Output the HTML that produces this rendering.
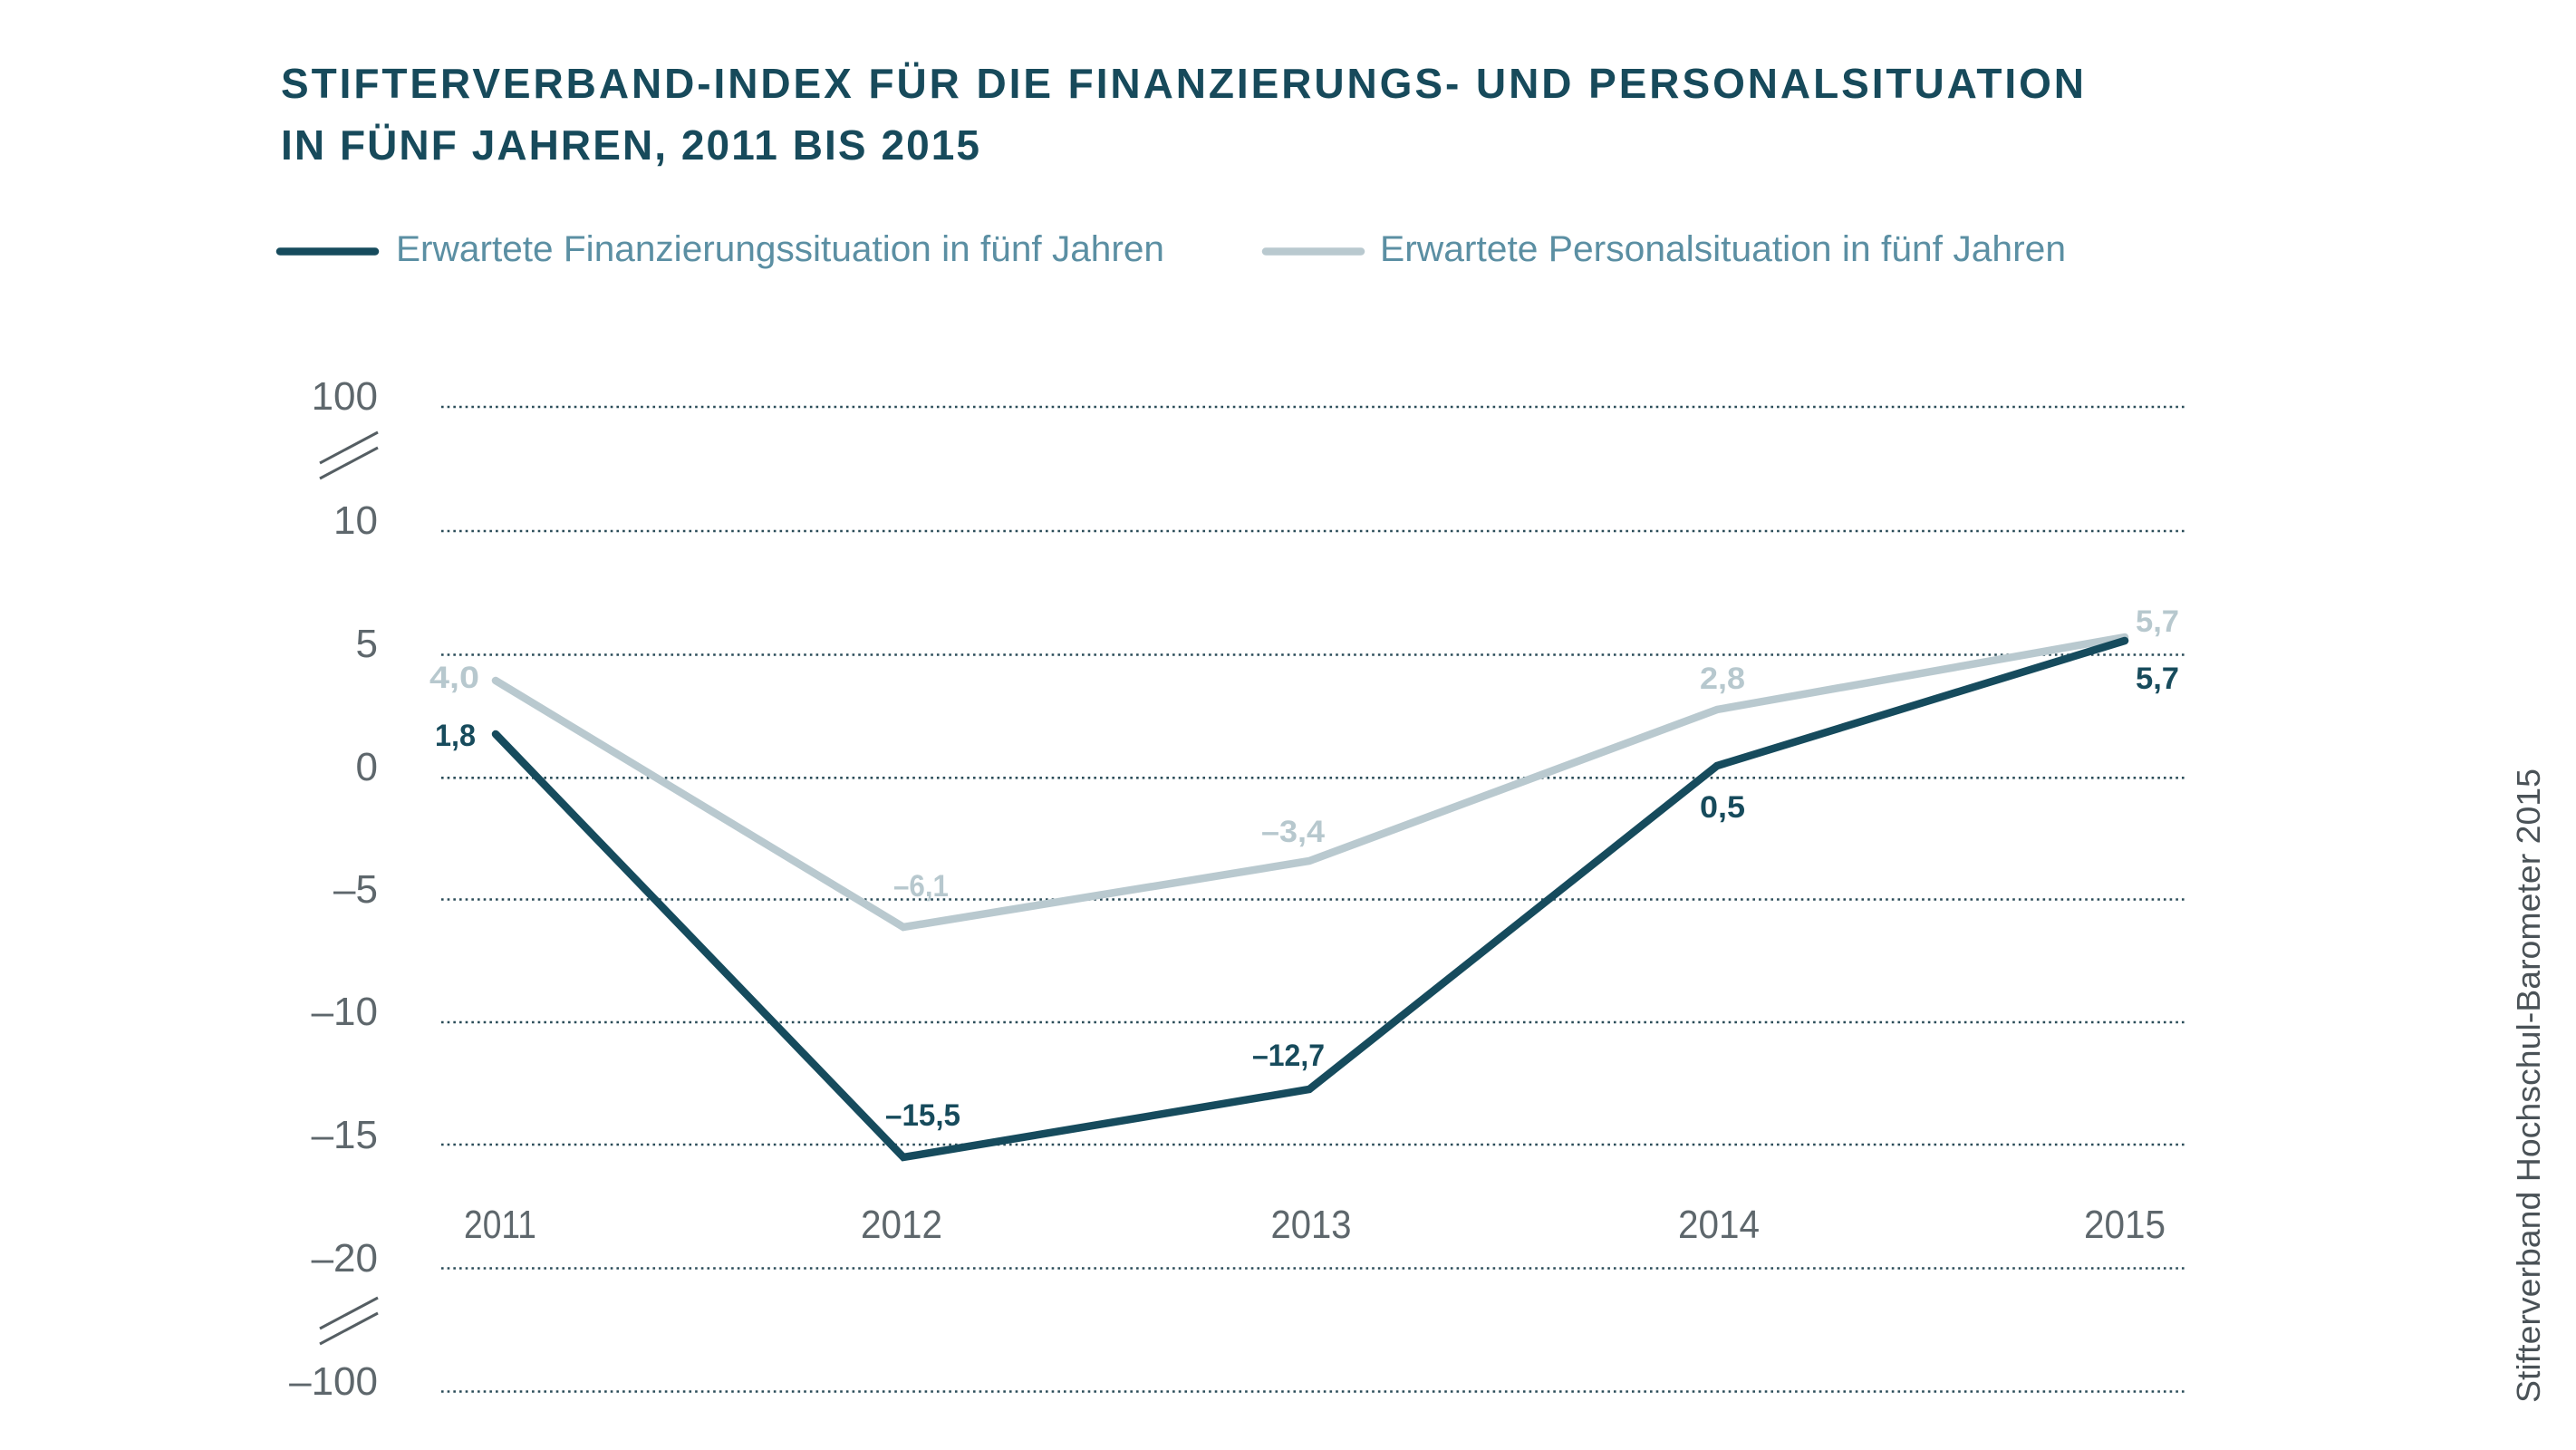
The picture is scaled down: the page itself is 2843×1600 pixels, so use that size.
<!DOCTYPE html>
<html>
<head>
<meta charset="utf-8">
<style>
  html,body{margin:0;padding:0;background:#ffffff;}
  body{width:2843px;height:1600px;overflow:hidden;}
  svg{display:block;}
  text{font-family:"Liberation Sans", sans-serif;}
</style>
</head>
<body>
<svg width="2843" height="1600" viewBox="0 0 2843 1600" xmlns="http://www.w3.org/2000/svg">
  <rect width="2843" height="1600" fill="#ffffff"/>

  <!-- Title -->
  <text x="310" y="108" font-size="46" font-weight="bold" fill="#174a5b" textLength="1990" lengthAdjust="spacing">STIFTERVERBAND-INDEX FÜR DIE FINANZIERUNGS- UND PERSONALSITUATION</text>
  <text x="310" y="176" font-size="46" font-weight="bold" fill="#174a5b" textLength="771" lengthAdjust="spacing">IN FÜNF JAHREN, 2011 BIS 2015</text>

  <!-- Legend -->
  <line x1="309" y1="277.5" x2="414" y2="277.5" stroke="#164b5d" stroke-width="8.5" stroke-linecap="round"/>
  <text x="437" y="288" font-size="40" fill="#5b8fa3" textLength="848" lengthAdjust="spacingAndGlyphs">Erwartete Finanzierungssituation in fünf Jahren</text>
  <line x1="1397" y1="277.5" x2="1502" y2="277.5" stroke="#b9c9cf" stroke-width="8.5" stroke-linecap="round"/>
  <text x="1523" y="288" font-size="40" fill="#5b8fa3" textLength="757" lengthAdjust="spacingAndGlyphs">Erwartete Personalsituation in fünf Jahren</text>

  <!-- Gridlines -->
  <g stroke="#2a4c58" stroke-width="2.6" stroke-dasharray="2.6 4.07">
    <line x1="487" y1="449" x2="2412" y2="449"/>
    <line x1="487" y1="586" x2="2412" y2="586"/>
    <line x1="487" y1="722.5" x2="2412" y2="722.5"/>
    <line x1="487" y1="858.3" x2="2412" y2="858.3"/>
    <line x1="487" y1="992.5" x2="2412" y2="992.5"/>
    <line x1="487" y1="1128" x2="2412" y2="1128"/>
    <line x1="487" y1="1263" x2="2412" y2="1263"/>
    <line x1="487" y1="1399.5" x2="2412" y2="1399.5"/>
    <line x1="487" y1="1535.5" x2="2412" y2="1535.5"/>
  </g>

  <!-- Y axis labels -->
  <g font-size="44" fill="#5e676c" text-anchor="end">
    <text x="417" y="452">100</text>
    <text x="417" y="589">10</text>
    <text x="417" y="725">5</text>
    <text x="417" y="861">0</text>
    <text x="417" y="996">–5</text>
    <text x="417" y="1131">–10</text>
    <text x="417" y="1267">–15</text>
    <text x="417" y="1403">–20</text>
    <text x="417" y="1539">–100</text>
  </g>

  <!-- Axis break marks -->
  <g stroke="#555e63" stroke-width="3">
    <line x1="353" y1="511" x2="417" y2="477"/>
    <line x1="353" y1="528" x2="417" y2="494"/>
    <line x1="353" y1="1466" x2="417" y2="1432"/>
    <line x1="353" y1="1483" x2="417" y2="1449"/>
  </g>

  <!-- X axis labels -->
  <g font-size="44" fill="#5e676c" text-anchor="middle">
    <text x="552" y="1366" textLength="80" lengthAdjust="spacingAndGlyphs">2011</text>
    <text x="995" y="1366" textLength="90" lengthAdjust="spacingAndGlyphs">2012</text>
    <text x="1447" y="1366" textLength="89" lengthAdjust="spacingAndGlyphs">2013</text>
    <text x="1897" y="1366" textLength="90" lengthAdjust="spacingAndGlyphs">2014</text>
    <text x="2345" y="1366" textLength="90" lengthAdjust="spacingAndGlyphs">2015</text>
  </g>

  <!-- Series: Personalsituation (light) -->
  <polyline points="547,751 997,1023 1445,950 1895,783 2345,703" fill="none" stroke="#b9c9cf" stroke-width="8.5" stroke-linecap="round" stroke-linejoin="miter"/>
  <!-- Series: Finanzierungssituation (dark) -->
  <polyline points="547,810 997,1277 1445,1202 1895,845 2345,707" fill="none" stroke="#164b5d" stroke-width="8.5" stroke-linecap="round" stroke-linejoin="miter"/>

  <!-- Data labels light -->
  <g font-size="34" font-weight="bold" fill="#b7c8ce">
    <text x="474" y="759" textLength="55" lengthAdjust="spacingAndGlyphs">4,0</text>
    <text x="986" y="989" textLength="61" lengthAdjust="spacingAndGlyphs">–6,1</text>
    <text x="1392" y="929" textLength="70" lengthAdjust="spacingAndGlyphs">–3,4</text>
    <text x="1876" y="760" textLength="50" lengthAdjust="spacingAndGlyphs">2,8</text>
    <text x="2357" y="697" textLength="48" lengthAdjust="spacingAndGlyphs">5,7</text>
  </g>
  <!-- Data labels dark -->
  <g font-size="34" font-weight="bold" fill="#174b5c">
    <text x="480" y="823" textLength="45" lengthAdjust="spacingAndGlyphs">1,8</text>
    <text x="977" y="1242" textLength="83" lengthAdjust="spacingAndGlyphs">–15,5</text>
    <text x="1382" y="1176" textLength="80" lengthAdjust="spacingAndGlyphs">–12,7</text>
    <text x="1876" y="902" textLength="50" lengthAdjust="spacingAndGlyphs">0,5</text>
    <text x="2357" y="760" textLength="48" lengthAdjust="spacingAndGlyphs">5,7</text>
  </g>

  <!-- Source (vertical) -->
  <text transform="translate(2803,1548) rotate(-90)" x="0" y="0" font-size="36" fill="#4a5257" textLength="700" lengthAdjust="spacingAndGlyphs">Stifterverband Hochschul-Barometer 2015</text>
</svg>
</body>
</html>
